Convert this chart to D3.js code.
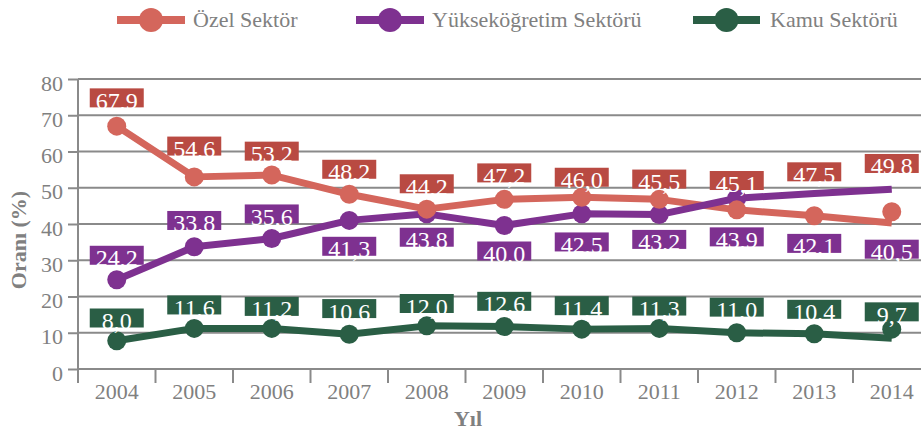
<!DOCTYPE html>
<html>
<head>
<meta charset="utf-8">
<script src="https://d3js.org/d3.v7.min.js"></script>
<style>
  body { margin: 0; background: #fff; }
  text { font-family: "Liberation Serif", serif; }
</style>
</head>
<body>
<div id="my_dataviz"></div>
<script>
// categories
const years = ["2004","2005","2006","2007","2008","2009","2010","2011","2012","2013","2014"];

// data labels (values printed in the boxes)
const ozelLabels   = [67.9, 54.6, 53.2, 48.2, 44.2, 47.2, 46.0, 45.5, 45.1, 47.5, 49.8];
const yuksekLabels = [24.2, 33.8, 35.6, 41.3, 43.8, 40.0, 42.5, 43.2, 43.9, 42.1, 40.5];
const kamuLabels   = [8.0, 11.6, 11.2, 10.6, 12.0, 12.6, 11.4, 11.3, 11.0, 10.4, 9.7];

// lines and markers as they are drawn in the picture
const ozelLine   = [67.0, 53.0, 53.5, 48.2, 44.1, 46.8, 47.4, 46.8, 43.9, 42.3, 40.3];
const ozelDots   = [67.0, 53.0, 53.5, 48.2, 44.1, 46.8, 47.4, 46.8, 43.9, 42.3, 43.4];
const yuksekLine = [24.6, 33.7, 36.0, 41.0, 42.8, 39.6, 42.8, 42.6, 47.1, 48.4, 49.6];
const yuksekDots = [24.6, 33.7, 36.0, 41.0, 42.8, 39.6, 42.8, 42.6, 47.1, null, null];
const kamuLine   = [7.8, 11.2, 11.2, 9.6, 11.9, 11.7, 11.0, 11.2, 10.0, 9.7, 8.5];
const kamuDots   = [7.8, 11.2, 11.2, 9.6, 11.9, 11.7, 11.0, 11.2, 10.0, 9.7, 11.0];

const yTicks = [0, 10, 20, 30, 40, 50, 60, 70, 80];

const series = [
  {name: "Özel Sektör", line: ozelLine, dots: ozelDots, labels: ozelLabels, color: "#d4665c", box: "#b94a42"},
  {name: "Yükseköğretim Sektörü", line: yuksekLine, dots: yuksekDots, labels: yuksekLabels, color: "#7e3190", box: "#7e3190"},
  {name: "Kamu Sektörü", line: kamuLine, dots: kamuDots, labels: kamuLabels, color: "#2a5e45", box: "#2a5e45"}
];

const W = 921, H = 440;
const svg = d3.select("#my_dataviz").append("svg")
  .attr("width", W).attr("height", H);

const x = d3.scaleBand().domain(years).range([78, 930.5]);
const y = d3.scaleLinear().domain([0, 80]).range([369, 79]);
const cx = d => x(d) + x.bandwidth() / 2;

const grey = "#8a8a8a";
const textGrey = "#808080";

// gridlines
svg.append("g").selectAll("line").data(yTicks.slice(1)).enter().append("line")
  .attr("x1", 78).attr("x2", W)
  .attr("y1", d => y(d)).attr("y2", d => y(d))
  .attr("stroke", grey).attr("stroke-width", 2);

// y axis
const yAxis = svg.append("g").attr("transform", "translate(78,0)")
  .call(d3.axisLeft(y).tickValues(yTicks).tickSize(10).tickPadding(5));
yAxis.select(".domain").remove();
yAxis.selectAll("line").attr("stroke", grey).attr("stroke-width", 2);
yAxis.selectAll("text").attr("fill", textGrey).attr("font-size", 22)
  .attr("font-family", "Liberation Serif").attr("dy", "0.5em");
svg.append("line").attr("x1", 78).attr("x2", 78).attr("y1", y(80)).attr("y2", 383)
  .attr("stroke", grey).attr("stroke-width", 2);

// x axis
svg.append("line").attr("x1", 78).attr("x2", W).attr("y1", y(0)).attr("y2", y(0))
  .attr("stroke", grey).attr("stroke-width", 2);
svg.append("g").selectAll("line").data(years).enter().append("line")
  .attr("x1", d => x(d)).attr("x2", d => x(d))
  .attr("y1", y(0)).attr("y2", 383)
  .attr("stroke", grey).attr("stroke-width", 2);
const xAxis = svg.append("g").attr("transform", "translate(0," + y(0) + ")")
  .call(d3.axisBottom(x).tickSize(0).tickPadding(14));
xAxis.select(".domain").remove();
xAxis.selectAll("text").attr("fill", textGrey).attr("font-size", 22)
  .attr("font-family", "Liberation Serif");

// axis titles
svg.append("text").attr("transform", "translate(26,240) rotate(-90)")
  .attr("text-anchor", "middle").attr("font-size", 22).attr("font-weight", "bold")
  .attr("fill", textGrey).text("Oranı (%)");
svg.append("text").attr("x", 468).attr("y", 426)
  .attr("text-anchor", "middle").attr("font-size", 22).attr("font-weight", "bold")
  .attr("fill", textGrey).text("Yıl");

// lines
const line = d3.line().x((d, i) => cx(years[i])).y(d => y(d));
series.forEach(s => {
  svg.append("path").datum(s.line)
    .attr("d", line).attr("fill", "none")
    .attr("stroke", s.color).attr("stroke-width", 7)
    .attr("stroke-linejoin", "round");
});

// markers
[series[1], series[0], series[2]].forEach(s => {
  svg.append("g").selectAll("circle")
    .data(s.dots.map((v, i) => ({v: v, year: years[i]})).filter(d => d.v !== null))
    .enter().append("circle")
    .attr("cx", d => cx(d.year)).attr("cy", d => y(d.v)).attr("r", 9.5)
    .attr("fill", s.color);
});

// data labels
const fmt = v => d3.format(".1f")(v).replace(".", ",");
const offset = (si, i) => si === 0 ? -25 : si === 2 ? -22 : (i < 3 ? -26 : 27);
series.forEach((s, si) => {
  const g = svg.append("g").selectAll("g")
    .data(s.labels.map((v, i) => ({v: v, year: years[i], i: i})))
    .enter().append("g")
    .attr("transform", d => "translate(" + cx(d.year) + "," + (y(d.v) + offset(si, d.i)) + ")");
  g.append("rect").attr("x", -27).attr("y", -9.5).attr("width", 54).attr("height", 19)
    .attr("fill", s.box);
  g.append("text").attr("text-anchor", "middle").attr("y", 11)
    .attr("font-size", 24).attr("fill", "#fff")
    .text(d => fmt(d.v));
});

// legend
const legendPos = [{x0: 117, x1: 185, tx: 193}, {x0: 356, x1: 424, tx: 432}, {x0: 693, x1: 760, tx: 770}];
series.forEach((s, i) => {
  const p = legendPos[i];
  const g = svg.append("g");
  g.append("line").attr("x1", p.x0).attr("x2", p.x1).attr("y1", 20).attr("y2", 20)
    .attr("stroke", s.color).attr("stroke-width", 8);
  g.append("circle").attr("cx", (p.x0 + p.x1) / 2).attr("cy", 20).attr("r", 12)
    .attr("fill", s.color);
  g.append("text").attr("x", p.tx).attr("y", 27).attr("font-size", 22)
    .attr("fill", textGrey).text(s.name);
});
</script>
</body>
</html>
